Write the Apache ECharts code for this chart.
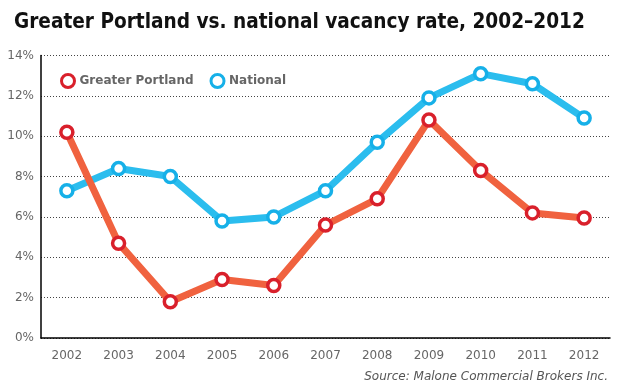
<!DOCTYPE html>
<html><head><meta charset="utf-8">
<script src="https://cdn.jsdelivr.net/npm/echarts@6/dist/echarts.min.js"></script>
<style>html,body{margin:0;padding:0;background:#fff}#c{width:624px;height:390px}</style>
</head><body><div id="c"></div>
<script>
var years = ['2002','2003','2004','2005','2006','2007','2008','2009','2010','2011','2012'];
var portland = [10.2, 4.7, 1.8, 2.9, 2.6, 5.6, 6.9, 10.8, 8.3, 6.2, 5.95];
var national = [7.3, 8.4, 8.0, 5.8, 6.0, 7.3, 9.7, 11.9, 13.1, 12.6, 10.9];
var yTicks = [0, 2, 4, 6, 8, 10, 12, 14];
var font = 'Verdana, "DejaVu Sans", sans-serif';
var titleFont = '"DejaVu Sans Condensed", "Liberation Sans Narrow", "DejaVu Sans", sans-serif';
var chart = echarts.init(document.getElementById('c'));
chart.setOption({
  animation: false,
  backgroundColor: '#fff',
  title: [{
    text: 'Greater Portland vs. national vacancy rate, 2002\u20132012',
    left: 9, top: 7,
    textStyle: {fontFamily: titleFont, fontWeight: 'bold', fontSize: 20.6, color: '#111'}
  }, {
    text: 'Source: Malone Commercial Brokers Inc.',
    right: 11, top: 366,
    textStyle: {fontFamily: font, fontStyle: 'italic', fontWeight: 'normal', fontSize: 12, color: '#555'}
  }],
  legend: {
    left: 55, top: 68, itemGap: 16, itemWidth: 13, itemHeight: 13,
    textStyle: {fontFamily: font, fontWeight: 'bold', fontSize: 12, color: '#666'},
    data: [
      {name: 'Greater Portland', icon: 'circle', itemStyle: {color: '#fff', borderColor: '#d9202b', borderWidth: 3}},
      {name: 'National', icon: 'circle', itemStyle: {color: '#fff', borderColor: '#16b0e8', borderWidth: 3}}
    ]
  },
  grid: {left: 41, right: 14, top: 55.5, bottom: 52},
  xAxis: {
    type: 'category', data: years, boundaryGap: true,
    axisLine: {lineStyle: {color: '#000', width: 1.5}},
    axisTick: {show: false},
    axisLabel: {fontFamily: font, fontSize: 12, color: '#666', margin: 12}
  },
  yAxis: {
    type: 'value', min: 0, max: 14, interval: 2,
    axisLine: {show: true, lineStyle: {color: '#000', width: 1.5}},
    axisTick: {show: false},
    axisLabel: {fontFamily: font, fontSize: 12, color: '#666', margin: 7, formatter: function (v) { return yTicks.indexOf(v) >= 0 ? v + '%' : ''; }},
    splitLine: {lineStyle: {color: '#444', type: [1, 2], width: 1}}
  },
  series: [{
    name: 'Greater Portland', type: 'line', data: portland,
    symbol: 'circle', symbolSize: 12,
    lineStyle: {color: '#f0623f', width: 7},
    itemStyle: {color: '#fff', borderColor: '#d9202b', borderWidth: 3.5},
    z: 3
  }, {
    name: 'National', type: 'line', data: national,
    symbol: 'circle', symbolSize: 12,
    lineStyle: {color: '#2bbdee', width: 7},
    itemStyle: {color: '#fff', borderColor: '#16b0e8', borderWidth: 3.5},
    z: 2
  }]
});
</script></body></html>
